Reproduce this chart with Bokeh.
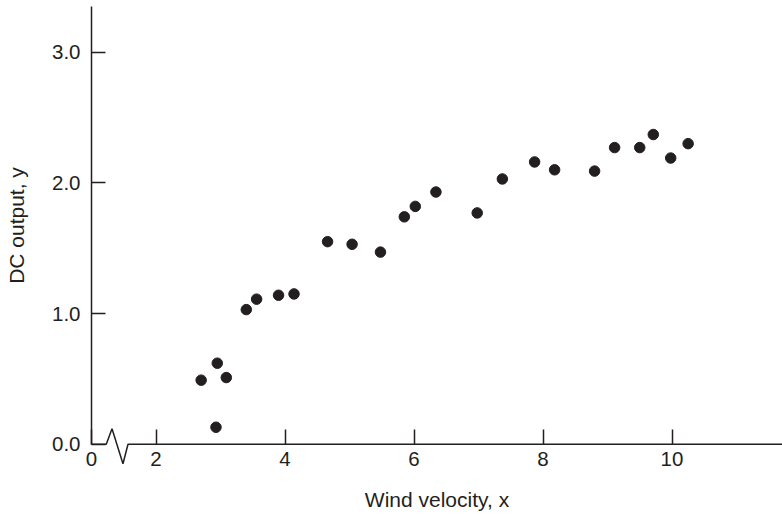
from bokeh.plotting import figure
from bokeh.models import FixedTicker, Range1d, NumeralTickFormatter
from bokeh.embed import file_html
from bokeh.resources import INLINE

# ---- data ----
wind_velocity = [2.70, 2.95, 2.93, 3.09, 3.40, 3.56, 3.90, 4.14, 4.66, 5.04, 5.48,
                 5.85, 6.02, 6.34, 6.98, 7.37, 7.87, 8.18, 8.80, 9.11, 9.50, 9.71,
                 9.98, 10.25]
dc_output = [0.49, 0.62, 0.13, 0.51, 1.03, 1.11, 1.14, 1.15, 1.55, 1.53, 1.47,
             1.74, 1.82, 1.93, 1.77, 2.03, 2.16, 2.10, 2.09, 2.27, 2.27, 2.37,
             2.19, 2.30]

x_ticks = [1.0, 2, 4, 6, 8, 10]          # 1.0 is the broken-axis origin, labelled "0"
x_tick_labels = ["0", "2", "4", "6", "8", "10"]
y_ticks = [0, 1, 2, 3]

# axis-break decoration (x axis line with zigzag)
break_x = [1.0, 1.229, 1.318, 1.488, 1.566, 12.0]
break_y = [0, 0, 0.118, -0.150, 0, 0]

INK = "#231f20"
FONT = "Liberation Sans"

W, H = 782, 517
PX_X, PX_Y = 64.5, 130.67          # pixels per data unit
X0 = 1.0 - 91 / PX_X
Y1 = 443.7 / PX_Y

p = figure(width=W, height=H,
           x_range=Range1d(X0, X0 + W / PX_X), y_range=Range1d(Y1 - H / PX_Y, Y1),
           output_backend="svg", toolbar_location=None,
           min_border_left=0, min_border_right=0, min_border_top=0, min_border_bottom=0)

p.outline_line_color = None
p.xgrid.visible = False
p.ygrid.visible = False
p.background_fill_color = "white"
p.border_fill_color = "white"

# x axis drawn at y = 0, its line replaced by the broken line below
xa = p.xaxis[0]
xa.fixed_location = 0
xa.bounds = (1.0, 11.81)
xa.axis_line_color = None
xa.ticker = FixedTicker(ticks=x_ticks)
xa.major_label_overrides = {t: s for t, s in zip(x_ticks, x_tick_labels)}
xa.major_tick_in = 15
xa.major_tick_out = 0
xa.major_tick_line_color = INK
xa.major_tick_line_width = 1.5
xa.minor_tick_line_color = None
xa.major_label_standoff = 8
xa.major_label_text_font = FONT
xa.major_label_text_font_size = "20.5px"
xa.major_label_text_color = INK
xa.axis_label = "Wind velocity, x"
xa.axis_label_text_font = FONT
xa.axis_label_text_font_size = "21px"
xa.axis_label_text_font_style = "normal"
xa.axis_label_text_color = INK
xa.axis_label_standoff = 18

ya = p.yaxis[0]
ya.fixed_location = 1.0
ya.bounds = (0, 3.35)
ya.ticker = FixedTicker(ticks=y_ticks)
ya.formatter = NumeralTickFormatter(format="0.0")
ya.axis_line_color = INK
ya.axis_line_width = 1.5
ya.major_tick_in = 14
ya.major_tick_out = 0
ya.major_tick_line_color = INK
ya.major_tick_line_width = 1.5
ya.minor_tick_line_color = None
ya.major_label_standoff = 11
ya.major_label_text_font = FONT
ya.major_label_text_font_size = "20.5px"
ya.major_label_text_color = INK
ya.axis_label = "DC output, y"
ya.axis_label_text_font = FONT
ya.axis_label_text_font_size = "21px"
ya.axis_label_text_font_style = "normal"
ya.axis_label_text_color = INK
ya.axis_label_standoff = 21

p.line(break_x, break_y, line_color=INK, line_width=1.5)
p.scatter(wind_velocity, dc_output, size=10.5, fill_color=INK, line_color=INK)

open("out.html", "w").write(file_html(p, INLINE))
